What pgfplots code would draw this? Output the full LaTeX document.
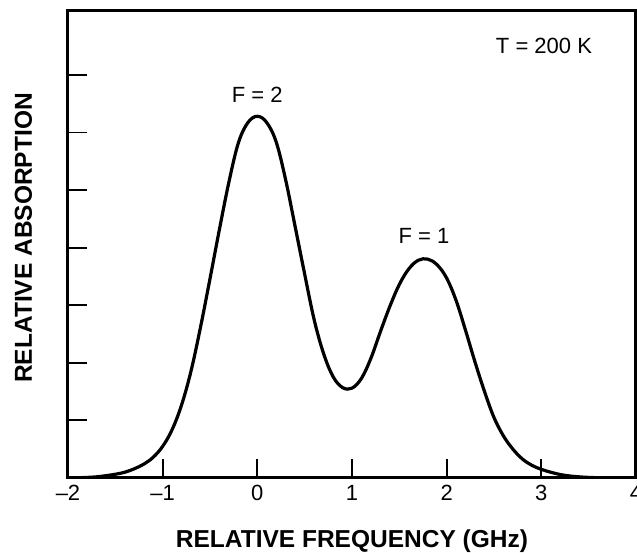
\documentclass[border=0pt]{standalone}
\usepackage{fontspec}
\setmainfont{Liberation Sans}
\usepackage{pgfplots}
\pgfplotsset{compat=1.18}
\begin{document}
\begin{tikzpicture}
\begin{axis}[
  scale only axis, width=568pt, height=467pt,
  xmin=-2, xmax=4, ymin=0, ymax=8.108,
  axis line style={line width=3pt},
  every outer x axis line/.append style={line width=3pt},
  every outer y axis line/.append style={line width=3pt},
  line width=3pt,
  xtick={-2,...,4}, xticklabels={\textendash2,\textendash1,0,1,2,3,4},
  ytick={1,...,7}, yticklabels={},
  xtick pos=bottom, ytick pos=left,
  tick align=inside,
  major tick length=19pt,
  every tick/.style={black, line width=1.8pt},
  xticklabel style={font=\fontsize{22}{22}\selectfont, anchor=base, yshift=-23pt},
  xlabel={RELATIVE FREQUENCY (GHz)},
  ylabel={RELATIVE ABSORPTION},
  label style={font=\fontsize{24.5}{24.5}\selectfont\bfseries},
  xlabel style={at={(axis description cs:0.5,-0.1478)}, anchor=base},
  ylabel style={at={(axis description cs:-0.0634,0.514)}, anchor=base},
]
\addplot[black, line width=3.2pt, smooth, tension=0.6] coordinates {
(-2.0,0) (-1.9,0.004) (-1.8,0.01) (-1.7,0.02) (-1.6,0.04) (-1.5,0.065)
(-1.4,0.10) (-1.3,0.16) (-1.2,0.24) (-1.1,0.36) (-1.0,0.55) (-0.9,0.84)
(-0.8,1.27) (-0.7,1.86) (-0.6,2.62) (-0.5,3.46) (-0.4,4.32) (-0.3,5.14)
(-0.2,5.82) (-0.1,6.17) (0.0,6.28) (0.1,6.17) (0.2,5.83) (0.3,5.17)
(0.4,4.36) (0.5,3.54) (0.6,2.75) (0.7,2.16) (0.8,1.76) (0.9,1.57)
(1.0,1.56) (1.1,1.73) (1.2,2.08) (1.3,2.54) (1.4,2.98)
(1.5,3.36) (1.6,3.63) (1.7,3.78) (1.8,3.80) (1.9,3.70)
(2.0,3.47) (2.1,3.08) (2.2,2.56) (2.3,2.01) (2.4,1.50) (2.5,1.05)
(2.6,0.73) (2.7,0.50) (2.8,0.33) (2.9,0.22) (3.0,0.15) (3.1,0.10)
(3.2,0.06) (3.3,0.035) (3.4,0.02) (3.5,0.01) (3.6,0.005) (3.7,0.002) (3.8,0) (3.9,0) (4.0,0)
};
\node[anchor=base, font=\fontsize{22}{22}\selectfont] at (axis cs:0,6.516) {F = 2};
\node[anchor=base, font=\fontsize{22}{22}\selectfont] at (axis cs:1.76,4.075) {F = 1};
\node[anchor=base, font=\fontsize{22}{22}\selectfont] at (axis cs:3.028,7.378) {T = 200 K};
\end{axis}
\pgfresetboundingbox
\path[use as bounding box] (-68pt,-75pt) rectangle (569pt,478pt);
\end{tikzpicture}
\end{document}
